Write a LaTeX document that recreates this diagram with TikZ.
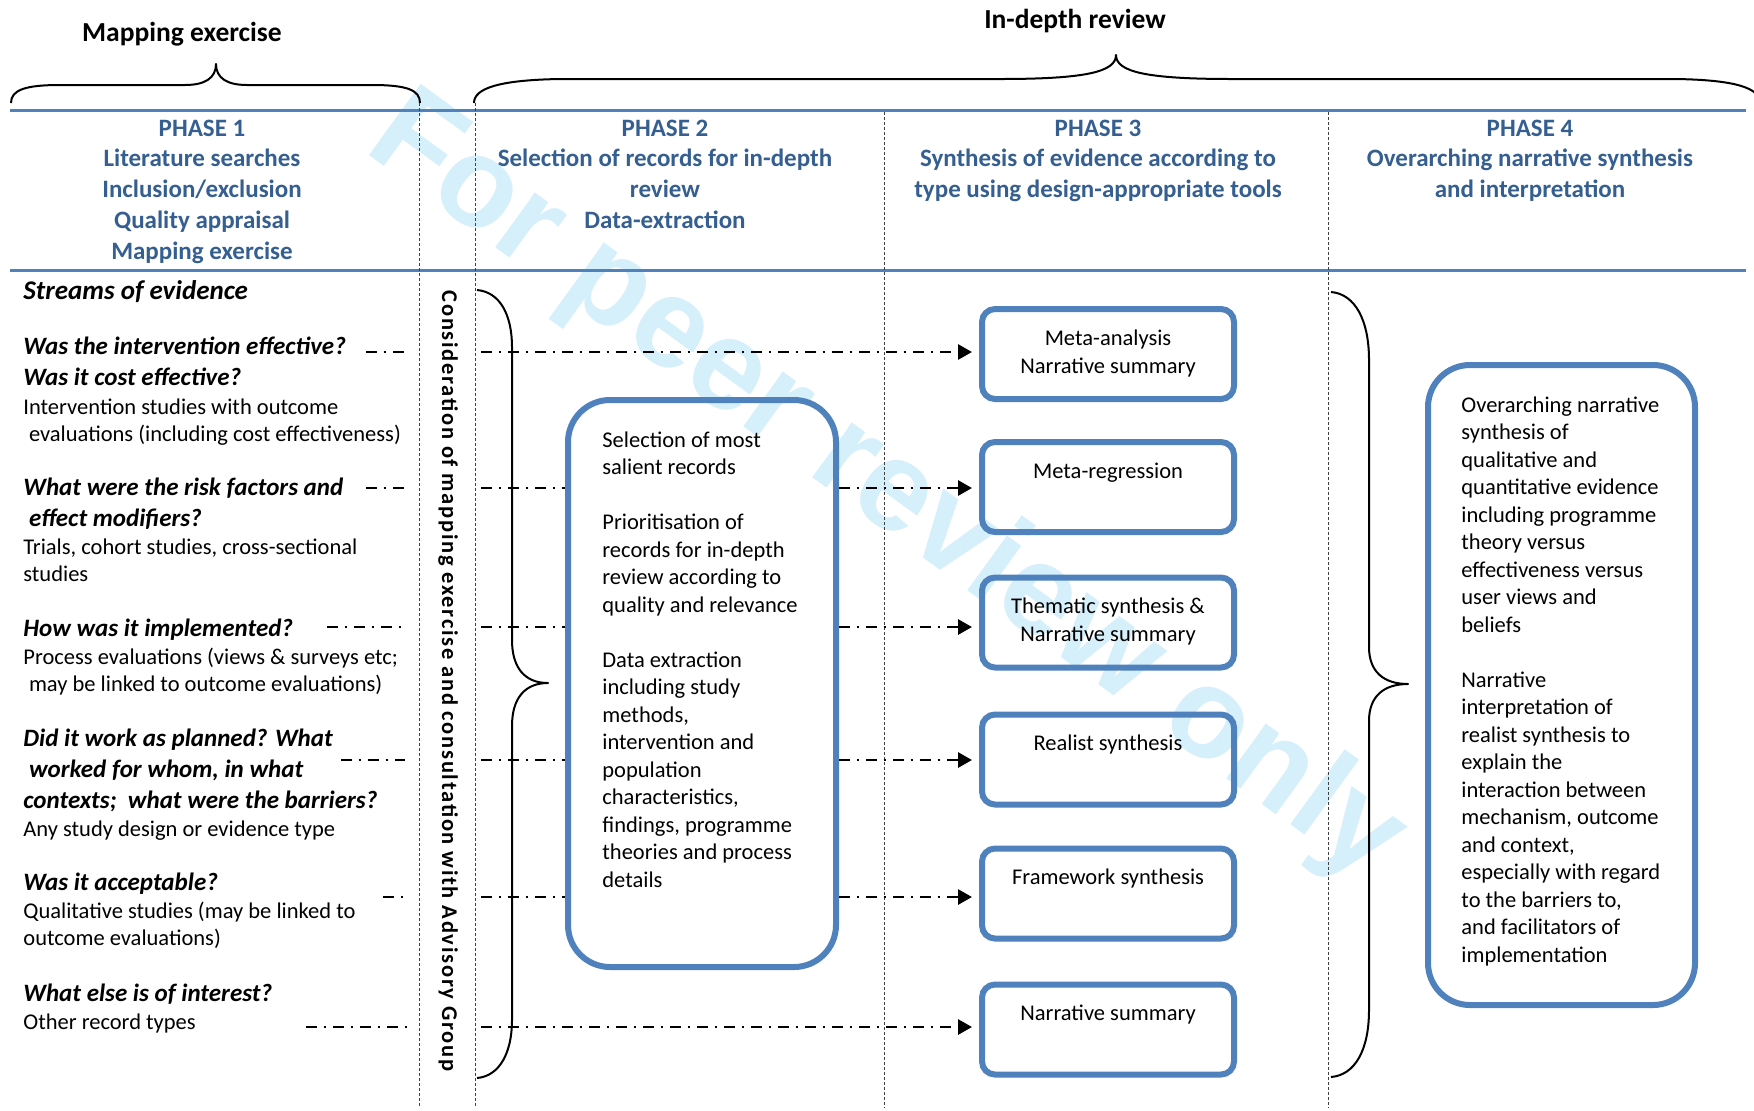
\documentclass[tikz,border=0pt]{standalone}
\usepackage{fontspec}
\setmainfont{Carlito}
\newfontfamily\vtfont[LetterSpace=7.6]{Carlito}
\newfontfamily\wmfont{Liberation Sans}
\usetikzlibrary{arrows.meta,calc}
\definecolor{lineblue}{RGB}{79,129,189}
\definecolor{headblue}{RGB}{54,95,145}
\definecolor{wmblue}{RGB}{213,239,251}
\newcommand{\ltab}[1]{\begin{tabular}[t]{@{}l@{}}#1\end{tabular}}
\newcommand{\ctab}[1]{\begin{tabular}[t]{@{}c@{}}#1\end{tabular}}
\tikzset{
  body/.style={font=\fontsize{11.25}{13.75}\selectfont, inner sep=0pt, anchor=base west},
  boxtext/.style={font=\fontsize{11.25}{14}\selectfont, inner sep=0pt, anchor=base},
  ques/.style={font=\fontsize{12.5}{15.5}\selectfont\bfseries\itshape, inner sep=0pt, anchor=base west},
  head/.style={font=\fontsize{12.5}{15.4}\selectfont\bfseries, text=headblue, inner sep=0pt, anchor=base},
  toplabel/.style={font=\fontsize{13.75}{16}\selectfont\bfseries, inner sep=0pt, anchor=base},
  sbox/.style={draw=lineblue, line width=3pt, rounded corners=6.5pt, minimum width=126pt, minimum height=45pt, inner sep=0pt},
  bbox/.style={draw=lineblue, line width=3pt, rounded corners=21pt, inner sep=0pt},
  dd/.style={line width=1.4pt, dash pattern=on 5.5pt off 3.3pt on 1.4pt off 3.3pt},
  arr/.style={dd, -{Triangle[length=7pt,width=7.5pt]}, shorten >=3.5pt},
  vdot/.style={line width=0.5pt, black!75, dash pattern=on 1.5pt off 1pt},
  brace/.style={line width=1pt, line join=round},
  bluerule/.style={lineblue, line width=1.6pt},
}
\begin{document}
\begin{tikzpicture}[x=0.5pt,y=-0.5pt]
\fill[white] (0,0) rectangle (1754,1110);
\useasboundingbox (0,0) rectangle (1754,1110);

% watermark
\node[rotate=-36, anchor=base west, inner sep=0pt, text=wmblue,
  font=\wmfont\bfseries\fontsize{64}{70}\selectfont] (wm) at (362,150) {For peer review only};

% top labels and braces
\node[toplabel] (lab1) at (182,41) {Mapping exercise};
\node[toplabel] (lab2) at (1075,28) {In-depth review};
\draw[brace] (11,103) .. controls (11,90) and (25,85) .. (60,85) -- (185,85)
  .. controls (205,85) and (216,78) .. (216,64)
  .. controls (216,78) and (227,85) .. (247,85) -- (372,85)
  .. controls (407,85) and (420,90) .. (420,103);
\draw[brace] (474,103) .. controls (474,88) and (500,80) .. (560,79) -- (1000,79)
  .. controls (1085,79) and (1116,72) .. (1116,55)
  .. controls (1116,72) and (1147,79) .. (1232,79) -- (1676,79)
  .. controls (1736,80) and (1760,88) .. (1760,103);

% rules
\draw[bluerule] (10,110.5) -- (1746,110.5);
\draw[bluerule] (10,270.5) -- (1746,270.5);
\draw[vdot] (419,103) -- (419,1108);
\draw[vdot] (475,103) -- (475,1108);
\draw[vdot] (884,112) -- (884,1108);
\draw[vdot] (1328,112) -- (1328,1108);

% headers
\node[head] (h1) at (202,136) {\ctab{PHASE 1\\Literature searches\\Inclusion/exclusion\\Quality appraisal\\Mapping exercise}};
\node[head] (h2) at (665,136) {\ctab{PHASE 2\\Selection of records for in-depth\\review\\Data-extraction}};
\node[head] (h3) at (1098,136) {\ctab{PHASE 3\\Synthesis of evidence according to\\type using design-appropriate tools}};
\node[head] (h4) at (1530,136) {\ctab{PHASE 4\\Overarching narrative synthesis\\and interpretation}};

% left column
\node[font=\fontsize{13.5}{16}\selectfont\bfseries\itshape, inner sep=0pt, anchor=base west] (streams) at (23,299) {Streams of evidence};
\node[ques] (q1) at (23,354) {\ltab{Was the intervention effective?\\Was it cost effective?}};
\node[body] (b1) at (23,414) {\ltab{Intervention studies with outcome\\\hspace{2.8pt}evaluations (including cost effectiveness)}};
\node[ques] (q2) at (23,495) {\ltab{What were the risk factors and\\\hspace{2.8pt}effect modifiers?}};
\node[body] (b2) at (23,554) {\ltab{Trials, cohort studies, cross-sectional\\studies}};
\node[ques] (q3) at (23,636) {How was it implemented?};
\node[body] (b3) at (23,664) {\ltab{Process evaluations (views \& surveys etc;\\\hspace{2.8pt}may be linked to outcome evaluations)}};
\node[ques] (q4) at (23,746) {\ltab{Did it work as planned? What\\\hspace{2.8pt}worked for whom, in what\\contexts;\ \ what were the barriers?}};
\node[body] (b4) at (23,836) {Any study design or evidence type};
\node[ques] (q5) at (23,890) {Was it acceptable?};
\node[body] (b5) at (23,918) {\ltab{Qualitative studies (may be linked to\\outcome evaluations)}};
\node[ques] (q6) at (23,1001) {What else is of interest?};
\node[body] (b6) at (23,1029) {Other record types};

% vertical text
\node[rotate=-90, inner sep=0pt, font=\vtfont\bfseries\fontsize{11.25}{13}\selectfont] (vt) at (448,681)
  {Consideration of mapping exercise and consultation with Advisory Group};

% braces in body
\draw[brace] (477,290) .. controls (500,292) and (512,315) .. (512,347) -- (512,640)
  .. controls (512,668) and (525,683) .. (548,683)
  .. controls (525,683) and (512,698) .. (512,726) -- (512,1020)
  .. controls (512,1052) and (500,1076) .. (477,1078);
\draw[brace] (1331,292) .. controls (1355,294) and (1369,320) .. (1369,360) -- (1369,647)
  .. controls (1369,672) and (1384,684) .. (1408,684)
  .. controls (1384,684) and (1369,696) .. (1369,721) -- (1369,1010)
  .. controls (1369,1050) and (1355,1075) .. (1331,1077);

% boxes
\node[bbox, minimum width=134pt, minimum height=283.5pt] (p2) at (702,683.5) {};
\node[bbox, minimum width=133.5pt, minimum height=320pt] (p4) at (1561.5,685) {};
\node[sbox] (m1) at (1108,354) {};
\node[sbox] (m2) at (1108,487) {};
\node[sbox] (m3) at (1108,622.5) {};
\node[sbox] (m4) at (1108,759.5) {};
\node[sbox] (m5) at (1108,893.5) {};
\node[sbox] (m6) at (1108,1029.5) {};

\node[boxtext] (t1) at ($(m1.north)+(0,39)$) {\ctab{Meta-analysis\\Narrative summary}};
\node[boxtext] (t2) at ($(m2.north)+(0,39)$) {Meta-regression};
\node[boxtext] (t3) at ($(m3.north)+(0,39)$) {\ctab{Thematic synthesis \&\\Narrative summary}};
\node[boxtext] (t4) at ($(m4.north)+(0,39)$) {Realist synthesis};
\node[boxtext] (t5) at ($(m5.north)+(0,39)$) {Framework synthesis};
\node[boxtext] (t6) at ($(m6.north)+(0,39)$) {Narrative summary};

\node[body] (p2t) at ($(p2.north west)+(37,50)$) {\ltab{Selection of most\\salient records\\ \\Prioritisation of\\records for in-depth\\review according to\\quality and relevance\\ \\Data extraction\\including study\\methods,\\intervention and\\population\\characteristics,\\findings, programme\\theories and process\\details}};
\node[body] (p4t) at ($(p4.north west)+(36,50)$) {\ltab{Overarching narrative\\synthesis of\\qualitative and\\quantitative evidence\\including programme\\theory versus\\effectiveness versus\\user views and\\beliefs\\ \\Narrative\\interpretation of\\realist synthesis to\\explain the\\interaction between\\mechanism, outcome\\and context,\\especially with regard\\to the barriers to,\\and facilitators of\\implementation}};

% connectors: left segments
\coordinate (l1s) at (366,352); \coordinate (l1e) at (404,352);
\coordinate (l2s) at (366,488); \coordinate (l2e) at (404,488);
\coordinate (l3s) at (327,627); \coordinate (l3e) at (404,627);
\coordinate (l4s) at (341,760); \coordinate (l4e) at (405,760);
\coordinate (l5s) at (383,897); \coordinate (l5e) at (405,897);
\coordinate (l6s) at (306,1027); \coordinate (l6e) at (407,1027);
\draw[dd] (l1s) -- (l1e);
\draw[dd] (l2s) -- (l2e);
\draw[dd] (l3s) -- (l3e);
\draw[dd] (l4s) -- (l4e);
\draw[dd] (l5s) -- (l5e);
\draw[dd] (l6s) -- (l6e);

% connectors: right segments
\coordinate (r1) at (481,352);
\coordinate (r2) at (481,488);
\coordinate (r3) at (481,627);
\coordinate (r4) at (481,760);
\coordinate (r5) at (481,897);
\coordinate (r6) at (481,1027);
\draw[arr] (r1) -- (r1 -| m1.west);
\draw[dd] (r2) -- (r2 -| p2.west);
\draw[arr] (r2 -| p2.east) -- (r2 -| m2.west);
\draw[dd] (r3) -- (r3 -| p2.west);
\draw[arr] (r3 -| p2.east) -- (r3 -| m3.west);
\draw[dd] (r4) -- (r4 -| p2.west);
\draw[arr] (r4 -| p2.east) -- (r4 -| m4.west);
\draw[dd] (r5) -- (r5 -| p2.west);
\draw[arr] (r5 -| p2.east) -- (r5 -| m5.west);
\draw[arr] (r6) -- (r6 -| m6.west);
\end{tikzpicture}
\end{document}
